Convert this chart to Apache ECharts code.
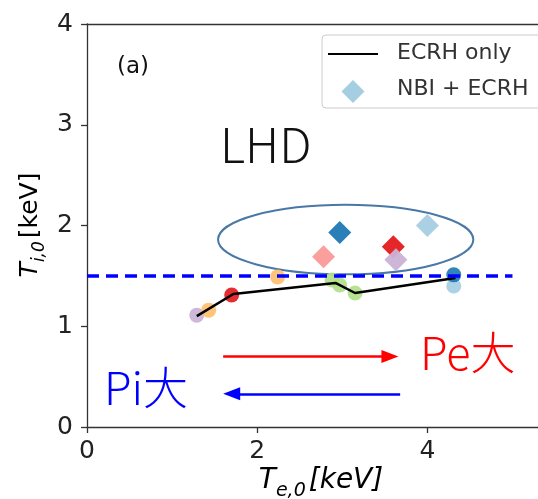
<!DOCTYPE html>
<html><head><meta charset="utf-8">
<script src="https://cdn.jsdelivr.net/npm/echarts@6/dist/echarts.min.js"></script>
<style>html,body{margin:0;padding:0;background:#fff}#c{width:538px;height:499px}</style>
</head><body><div id="c"></div>
<script>
// ---- data ----
const xTicks = [0, 2, 4];
const yTicks = [0, 1, 2, 3, 4];
const ecrhLineX = [1.29, 1.72, 2.92, 3.15, 4.33];
const ecrhLineY = [1.10, 1.32, 1.43, 1.33, 1.48];
const ecrhPtsX = [1.29, 1.43, 1.70, 2.24, 2.88, 2.97, 3.15, 4.31, 4.31];
const ecrhPtsY = [1.11, 1.16, 1.31, 1.49, 1.46, 1.41, 1.33, 1.40, 1.51];
const ecrhColors = ['#cab2d6', '#fdbf6f', '#e31a1c', '#fdbf6f', '#b2df8a', '#b2df8a', '#b2df8a', '#a6cee3', '#1f78b4'];
const nbiX = [2.78, 2.97, 3.60, 3.63, 4.00];
const nbiY = [1.69, 1.93, 1.79, 1.66, 2.00];
const nbiColors = ['#fb9a99', '#1f78b4', '#e31a1c', '#cab2d6', '#a6cee3'];
const thresholdX = [0, 5];
const thresholdY = 1.5;
const ellipseCenter = [3.04, 1.86];
const ellipseRadii = [1.5, 0.345];
const arrowPeX = [1.60, 3.56];
const arrowPeY = 0.70;
const arrowPiX = [3.68, 1.70];
const arrowPiY = 0.33;

const FONT = 'DejaVu Sans';
const chart = echarts.init(document.getElementById('c'), null, {renderer: 'canvas'});

const axisLineStyle = {color: '#333', width: 1.3};
const option = {
  animation: false,
  backgroundColor: '#fff',
  grid: {left: 87, top: 24, right: 0, bottom: 72, outerBoundsMode: 'none'},
  xAxis: [{
    type: 'value', min: 0, max: 5.3,
    axisLine: {show: true, lineStyle: axisLineStyle},
    axisTick: {show: true, length: 6, lineStyle: axisLineStyle, customValues: xTicks},
    axisLabel: {customValues: xTicks, fontSize: 25, fontFamily: FONT, color: '#222', margin: 12},
    splitLine: {show: false}
  }, {
    type: 'value', min: 0, max: 5.3, position: 'top',
    axisLine: {show: true, lineStyle: axisLineStyle},
    axisTick: {show: false}, axisLabel: {show: false}, splitLine: {show: false}
  }],
  yAxis: {
    type: 'value', min: 0, max: 4, interval: 1,
    axisLine: {show: true, lineStyle: axisLineStyle},
    axisTick: {show: true, length: 6, lineStyle: axisLineStyle, customValues: yTicks},
    axisLabel: {customValues: yTicks, fontSize: 25, fontFamily: FONT, color: '#222', margin: 14},
    splitLine: {show: false}
  },
  series: [
    {
      type: 'custom', silent: true, z: 1,
      data: [[ellipseCenter[0], ellipseCenter[1], ellipseRadii[0], ellipseRadii[1]]],
      encode: {x: 0, y: 1},
      renderItem: function (params, api) {
        const c = api.coord([api.value(0), api.value(1)]);
        const s = api.size([api.value(2), api.value(3)]);
        return {type: 'ellipse', shape: {cx: c[0], cy: c[1], rx: s[0], ry: s[1]},
          style: {fill: null, stroke: '#4a78a6', lineWidth: 2}};
      }
    },
    {
      type: 'scatter', z: 2, symbol: 'circle', symbolSize: 15, silent: true,
      data: ecrhPtsX.map((x, i) => ({value: [x, ecrhPtsY[i]], itemStyle: {color: ecrhColors[i], opacity: 0.92}}))
    },
    {
      type: 'line', name: 'ECRH only', z: 3, symbol: 'none', silent: true,
      lineStyle: {color: '#000', width: 2.5},
      data: ecrhLineX.map((x, i) => [x, ecrhLineY[i]])
    },
    {
      type: 'line', z: 4, symbol: 'none', silent: true,
      lineStyle: {color: '#0000ff', width: 3.5, type: [12, 7]},
      data: thresholdX.map(x => [x, thresholdY])
    },
    {
      type: 'scatter', name: 'NBI + ECRH', z: 5, symbol: 'diamond', symbolSize: 23, silent: true,
      data: nbiX.map((x, i) => ({value: [x, nbiY[i]], itemStyle: {color: nbiColors[i], opacity: 0.95}}))
    },
    {
      type: 'line', z: 6, data: [], silent: true,
      markLine: {
        silent: true, animation: false,
        symbol: ['none', 'triangle'], symbolSize: [13, 17],
        label: {show: false},
        data: [
          [{coord: [arrowPeX[0], arrowPeY], lineStyle: {color: '#ff0000', width: 2.5, type: 'solid'}, itemStyle: {color: '#ff0000'}},
           {coord: [arrowPeX[1], arrowPeY]}],
          [{coord: [arrowPiX[0], arrowPiY], lineStyle: {color: '#0000ff', width: 2.5, type: 'solid'}, itemStyle: {color: '#0000ff'}},
           {coord: [arrowPiX[1], arrowPiY]}]
        ]
      }
    }
  ],
  graphic: [
    // axis titles
    {type: 'text', x: 321, y: 484, silent: true,
      style: {text: '{t|T}{s|e,0}{n|[keV]}', align: 'center', verticalAlign: 'middle',
        rich: {
          t: {fontFamily: FONT, fontStyle: 'italic', fontSize: 28, color: '#222', lineHeight: 34, verticalAlign: 'top'},
          s: {fontFamily: FONT, fontStyle: 'italic', fontSize: 19, color: '#222', lineHeight: 34, verticalAlign: 'bottom', padding: [0, 3, 0, 0]},
          n: {fontFamily: FONT, fontStyle: 'italic', fontSize: 28, color: '#222', lineHeight: 34, verticalAlign: 'top'}
        }}},
    {type: 'text', x: 33, y: 225, rotation: Math.PI / 2, silent: true,
      style: {text: '{t|T}{s|i,0}{n|[keV]}', align: 'center', verticalAlign: 'middle',
        rich: {
          t: {fontFamily: FONT, fontStyle: 'italic', fontSize: 25, color: '#222', lineHeight: 31, verticalAlign: 'top'},
          s: {fontFamily: FONT, fontStyle: 'italic', fontSize: 17, color: '#222', lineHeight: 31, verticalAlign: 'bottom', padding: [0, 3, 0, 0]},
          n: {fontFamily: FONT, fontSize: 25, color: '#222', lineHeight: 31, verticalAlign: 'top'}
        }}},
    // annotations
    {type: 'text', x: 117, y: 67, silent: true,
      style: {text: '(a)', fontFamily: FONT, fontSize: 23, fill: '#111', align: 'left', verticalAlign: 'middle'}},
    {type: 'text', x: 220, y: 145, silent: true,
      style: {text: 'LHD', fontFamily: 'Noto Sans CJK JP', fontWeight: 300, fontSize: 48, fill: '#111', align: 'left', verticalAlign: 'middle'}},
    {type: 'text', x: 420, y: 353, silent: true,
      style: {text: 'Pe大', fontFamily: 'Noto Sans CJK JP', fontWeight: 300, fontSize: 45, fill: '#ff0000', align: 'left', verticalAlign: 'middle'}},
    {type: 'text', x: 104, y: 388, silent: true,
      style: {text: 'Pi大', fontFamily: 'Noto Sans CJK JP', fontWeight: 300, fontSize: 45, fill: '#0000ff', align: 'left', verticalAlign: 'middle'}},
    // legend
    {type: 'rect', silent: true, z: 100, shape: {x: 322, y: 35, width: 230, height: 73, r: 4},
      style: {fill: '#fff', stroke: '#cccccc', lineWidth: 1}},
    {type: 'line', silent: true, z: 101, shape: {x1: 328, y1: 54, x2: 378, y2: 54},
      style: {stroke: '#000', lineWidth: 2}},
    {type: 'polygon', silent: true, z: 101, shape: {points: [[353, 80], [364.5, 91.5], [353, 103], [341.5, 91.5]]},
      style: {fill: '#a6cee3'}},
    {type: 'text', silent: true, z: 101, x: 397, y: 53,
      style: {text: 'ECRH only', fontFamily: FONT, fontSize: 22, fill: '#333', align: 'left', verticalAlign: 'middle'}},
    {type: 'text', silent: true, z: 101, x: 397, y: 89,
      style: {text: 'NBI + ECRH', fontFamily: FONT, fontSize: 22, fill: '#333', align: 'left', verticalAlign: 'middle'}}
  ]
};
chart.setOption(option);
</script>
</body></html>
